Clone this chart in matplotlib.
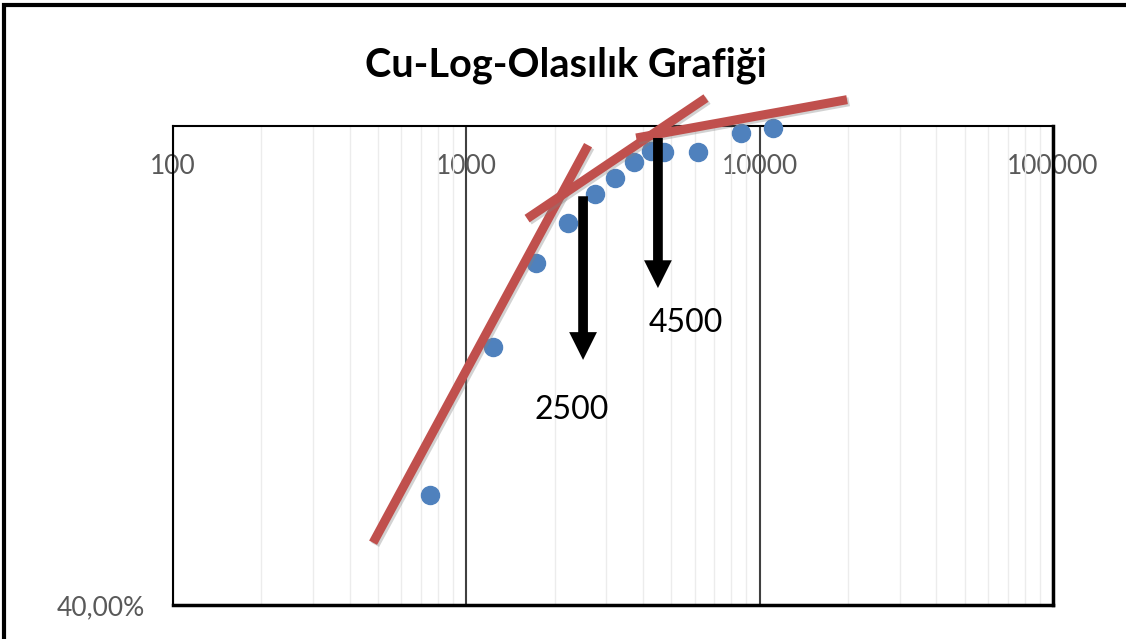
import numpy as np
import matplotlib.pyplot as plt
import matplotlib.patheffects as pe
from matplotlib.patches import Rectangle

# Cu tenörleri (ppm) ve kümülatif olasılık (%)
cu = [752, 1233, 1729, 2222, 2748, 3214, 3732, 4265, 4721, 6166, 8640, 11110]
prob = [53.8, 72.3, 82.8, 87.8, 91.5, 93.5, 95.5, 96.9, 96.7, 96.7, 99.1, 99.75]

# elle çizilen popülasyon doğruları: (x1, x2), (y1, y2)
trend_x = [(481, 2600), (1611, 6561), (3794, 19860)]
trend_y = [(47.8, 97.6), (88.4, 103.5), (98.5, 103.3)]

# eşik değerleri ve ok uçları
esik = [2500, 4500]
ok_ust = [91.2, 98.5]
ok_alt = [70.7, 79.7]
yazi_y = [64.4, 75.3]
yazi_dx = [-8, 20]

fig = plt.figure(figsize=(11.26, 6.39), dpi=100)
ax = fig.add_axes([173 / 1126, 34 / 639, 880 / 1126, 479 / 639])

ax.set_xscale('log')
ax.set_xlim(100, 100000)
ax.set_ylim(40, 100)

# ızgara
ax.xaxis.set_minor_locator(plt.LogLocator(base=10, subs=np.arange(2, 10)))
ax.grid(which='minor', axis='x', color='#ececec', lw=1)
ax.grid(which='major', axis='x', color='#404040', lw=1.5)
ax.set_axisbelow(True)

ax.xaxis.tick_top()
ax.set_xticks([100, 1000, 10000, 100000])
ax.set_xticklabels(['100', '1000', '10000', '100000'])
ax.tick_params(axis='x', which='both', length=0, pad=-38, labelsize=19,
               labelcolor='#595959')
ax.set_yticks([40])
ax.set_yticklabels(['40,00%'])
ax.tick_params(axis='y', length=0, pad=20, labelsize=19, labelcolor='#595959')
for lbl in ax.get_xticklabels() + ax.get_yticklabels():
    lbl.set_family('Lato')

for s in ax.spines.values():
    s.set_color('black')
    s.set_linewidth(1.5)
ax.spines['bottom'].set_linewidth(2.5)
ax.spines['right'].set_linewidth(2.5)

ax.plot(cu, prob, 'o', color='#4F81BD', ms=13, zorder=3, clip_on=False)

golge = [pe.SimpleLineShadow(offset=(1.5, -1.5), alpha=0.35, shadow_color='gray'),
         pe.Normal()]
for xs, ys in zip(trend_x, trend_y):
    ax.plot(xs, ys, color='#C0504D', lw=6.5, solid_capstyle='butt',
            clip_on=False, zorder=4, path_effects=golge)

for x, y1, y2, ty, dx in zip(esik, ok_ust, ok_alt, yazi_y, yazi_dx):
    ax.annotate('', xy=(x, y2), xytext=(x, y1),
                arrowprops=dict(arrowstyle='simple,head_length=1,head_width=1,tail_width=0.35',
                                mutation_scale=20, color='black', lw=0,
                                shrinkA=0, shrinkB=0), zorder=5)
    ax.annotate(str(x), xy=(x, ty), xytext=(dx, 0), textcoords='offset points',
                ha='center', va='center', fontsize=23, family='Lato', color='black')

fig.text(566 / 1126, 1 - 77 / 639, 'Cu-Log-Olasılık Grafiği', ha='center', va='baseline',
         fontsize=28.5, fontweight='bold', family='Lato')

# dış çerçeve (sağ ve alt kenar görüntü dışında kalıyor)
fig.patches.append(Rectangle((4 / 1126, -0.02), 1.05, 1.02 - 5 / 639,
                             transform=fig.transFigure, fill=False, lw=3,
                             edgecolor='black'))

fig.savefig('out.png', dpi=100)
